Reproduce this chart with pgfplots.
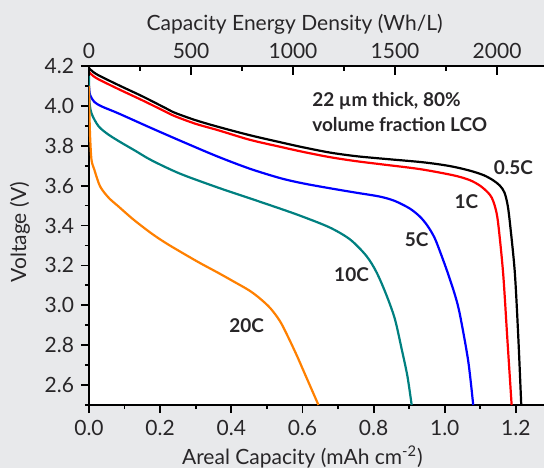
\documentclass[border=0pt]{standalone}
\usepackage{fontspec}
\setmainfont{Lato}
\usepackage{pgfplots}
\pgfplotsset{compat=1.18}
\definecolor{bg}{RGB}{232,233,235}
\definecolor{txt}{RGB}{40,38,40}
\definecolor{cred}{RGB}{255,0,0}
\definecolor{cblue}{RGB}{0,0,255}
\definecolor{cteal}{RGB}{0,128,128}
\definecolor{corange}{RGB}{255,128,0}

\begin{document}
\begin{tikzpicture}[font=\fontsize{10.5}{12.5}\selectfont]
\fill[bg] (-44.5pt,-31.5pt) rectangle (227.5pt,202.5pt);
% main axis: areal capacity vs voltage
\begin{axis}[
  at={(0,0)}, anchor=south west,
  scale only axis, width=227.5pt, height=169.5pt,
  xmin=0, xmax=1.279, ymin=2.5, ymax=4.2,
  axis x line*=bottom, axis y line*=left,
  axis line style={-, line width=1pt, black},
  axis background/.style={fill=white},
  xtick={0,0.2,0.4,0.6,0.8,1.0,1.2},
  xticklabels={0.0,0.2,0.4,0.6,0.8,1.0,1.2},
  minor xtick={0.1,0.3,0.5,0.7,0.9,1.1},
  ytick={2.6,2.8,3.0,3.2,3.4,3.6,3.8,4.0,4.2},
  yticklabels={2.6,2.8,3.0,3.2,3.4,3.6,3.8,4.0,4.2},
  minor ytick={2.5,2.7,2.9,3.1,3.3,3.5,3.7,3.9,4.1},
  tick align=outside,
  major tick length=4pt, minor tick length=2pt,
  tick style={line width=0.9pt, black},
  ticklabel style={text=txt},
  xlabel={Areal Capacity (mAh cm\textsuperscript{-2})},
  xlabel style={at={(axis description cs:0.469,-0.152)}, anchor=center, text=txt},
  ylabel={Voltage (V)},
  ylabel style={at={(axis description cs:-0.152,0.51)}, anchor=center, text=txt},
  every axis plot/.append style={line width=1.1pt, smooth, tension=0.5},
  clip=true,
]
% 0.5C
\addplot[black] coordinates {(0,4.19)(0.02,4.16)(0.082,4.105)(0.15,4.048)(0.214,3.99)(0.242,3.965)(0.30,3.928)(0.363,3.895)(0.452,3.853)(0.537,3.818)(0.60,3.793)(0.677,3.766)(0.75,3.748)(0.827,3.735)(0.94,3.717)(1.015,3.698)(1.071,3.675)(1.11,3.652)(1.136,3.627)(1.155,3.60)(1.168,3.565)(1.177,3.50)(1.184,3.40)(1.197,3.163)(1.207,2.83)(1.215,2.5)};
% 1C
\addplot[cred] coordinates {(0,4.17)(0.02,4.14)(0.082,4.085)(0.15,4.028)(0.214,3.972)(0.242,3.948)(0.30,3.91)(0.363,3.878)(0.452,3.83)(0.537,3.795)(0.60,3.77)(0.677,3.743)(0.75,3.723)(0.827,3.706)(0.93,3.683)(1.024,3.652)(1.07,3.628)(1.099,3.60)(1.12,3.568)(1.132,3.54)(1.142,3.49)(1.15,3.413)(1.164,3.163)(1.176,2.83)(1.188,2.5)};
% 5C
\addplot[cblue] coordinates {(0,4.10)(0.003,4.055)(0.015,4.02)(0.036,3.997)(0.082,3.963)(0.176,3.888)(0.27,3.815)(0.363,3.745)(0.452,3.685)(0.537,3.638)(0.60,3.612)(0.677,3.587)(0.75,3.565)(0.818,3.545)(0.86,3.523)(0.902,3.485)(0.93,3.445)(0.949,3.405)(0.965,3.36)(0.977,3.315)(1.005,3.18)(1.029,3.05)(1.043,2.95)(1.066,2.72)(1.08,2.5)};
% 10C
\addplot[cteal] coordinates {(0,4.15)(0.001,4.03)(0.007,3.963)(0.026,3.90)(0.05,3.862)(0.082,3.825)(0.13,3.775)(0.176,3.727)(0.256,3.66)(0.363,3.59)(0.438,3.545)(0.537,3.485)(0.60,3.445)(0.677,3.39)(0.734,3.33)(0.78,3.247)(0.809,3.163)(0.837,3.047)(0.86,2.93)(0.879,2.78)(0.895,2.645)(0.907,2.5)};
% 20C
\addplot[corange] coordinates {(0,4.10)(0.001,3.98)(0.003,3.85)(0.007,3.73)(0.015,3.68)(0.031,3.597)(0.055,3.54)(0.082,3.497)(0.125,3.43)(0.176,3.36)(0.218,3.31)(0.27,3.255)(0.312,3.212)(0.363,3.163)(0.406,3.12)(0.45,3.075)(0.48,3.035)(0.51,2.985)(0.537,2.92)(0.56,2.84)(0.585,2.745)(0.607,2.655)(0.645,2.5)};
\node[anchor=west, align=left, fill=white, inner sep=1pt, text=txt,
  font=\fontsize{9.5}{12.5}\selectfont\bfseries] at (axis cs:0.621,3.967)
  {22 µm thick, 80\%\\volume fraction LCO};
\begin{scope}[every node/.style={text=txt, font=\fontsize{9.5}{11}\selectfont\bfseries, inner sep=1pt}]
\node at (axis cs:1.193,3.688) {0.5C};
\node at (axis cs:1.061,3.522) {1C};
\node at (axis cs:0.921,3.327) {5C};
\node at (axis cs:0.738,3.152) {10C};
\node at (axis cs:0.443,2.897) {20C};
\end{scope}
\end{axis}
% top axis: capacity energy density
\begin{axis}[
  at={(0,0)}, anchor=south west,
  scale only axis, width=227.5pt, height=169.5pt,
  xmin=0, xmax=2230, ymin=2.5, ymax=4.2,
  axis x line*=top, hide y axis,
  axis line style={-, line width=1pt, black},
  xtick={0,500,1000,1500,2000},
  minor xtick={250,750,1250,1750},
  scaled x ticks=false,
  xticklabel style={/pgf/number format/1000 sep={}, /pgf/number format/assume math mode=true, text=txt},
  tick align=inside,
  major tick length=4.5pt, minor tick length=2.5pt,
  tick style={line width=0.9pt, black},
  xlabel={Capacity Energy Density (Wh/L)},
  xlabel style={at={(axis description cs:0.452,1.124)}, anchor=center, text=txt},
]
\addplot[draw=none] coordinates {(0,3)(2000,3)};
\end{axis}
\pgfresetboundingbox
\useasboundingbox (-44.5pt,-31.5pt) rectangle (227.5pt,202.5pt);
\end{tikzpicture}
\end{document}
